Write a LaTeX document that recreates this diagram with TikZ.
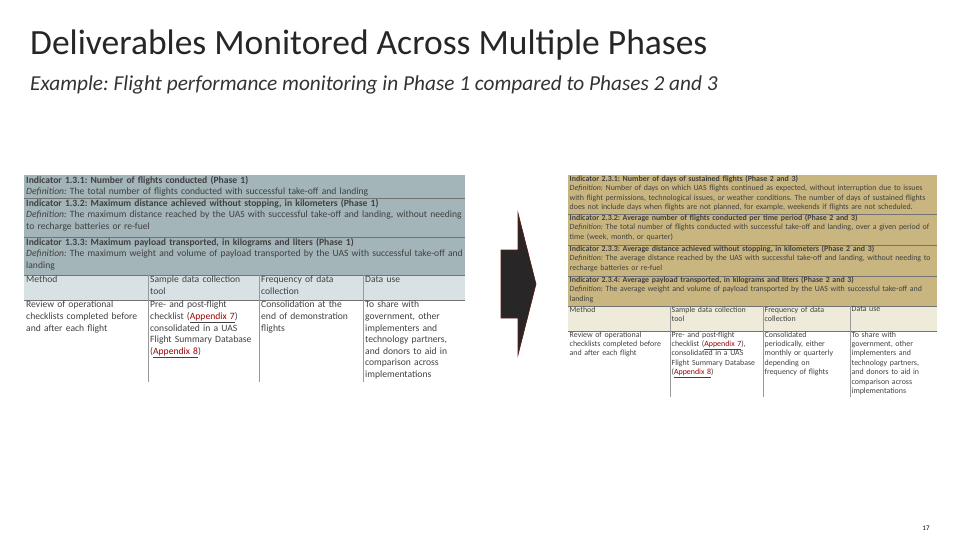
\documentclass[tikz,border=0pt]{standalone}
\usepackage{fontspec}
\setmainfont{Carlito}
\hyphenpenalty=10000 \exhyphenpenalty=10000
\begin{document}
\frenchspacing
\begin{tikzpicture}[x=1pt,y=-1pt,
 cell/.style={anchor=north west,inner xsep=2pt,inner ysep=1pt,font=\fontsize{9.6}{11.6}\selectfont\frenchspacing,align=left,text=black!75},
 rcell/.style={cell,font=\fontsize{7.9}{9.4}\selectfont\frenchspacing,inner ysep=0.5pt,inner xsep=1.5pt},
 ln/.style={draw=black!55,line width=0.6pt}]
\useasboundingbox (0,0) rectangle (960,540);
\node[anchor=west,font=\fontsize{35.5}{40}\selectfont,text=black!85,inner sep=0] (title) at (30,45) {Deliverables Monitored Across Multiple Phases};
\node[anchor=west,font=\fontsize{21.3}{24}\selectfont\itshape,text=black!80,inner sep=0] (sub) at (30,85) {Example: Flight performance monitoring in Phase 1 compared to Phases 2 and 3};
% left table
\fill[fill={rgb,255:red,163;green,181;blue,185}] (24,175) rectangle (465,275);
\fill[fill={rgb,255:red,216;green,226;blue,228}] (24,275) rectangle (465,300);
\draw[ln] (24,198)--(465,198) (24,237)--(465,237) (24,275)--(465,275) (24,300)--(465,300);
\draw[ln,draw=black!40] (148,275)--(148,382) (259,275)--(259,382) (363,275)--(363,382);
\node[cell,text width=441pt] (l1) at (24,175) {\textbf{Indicator 1.3.1: Number of flights conducted (Phase 1)}\\\textit{Definition:} The total number of flights conducted with successful take-off and landing};
\node[cell,text width=441pt] (l2) at (24,198) {\textbf{Indicator 1.3.2: Maximum distance achieved without stopping, in kilometers (Phase 1)}\\\textit{Definition:} The maximum distance reached by the UAS with successful take-off and landing, without needing to recharge batteries or re-fuel};
\node[cell,text width=438pt] (l3) at (24,237) {\textbf{Indicator 1.3.3: Maximum payload transported, in kilograms and liters (Phase 1)}\\\textit{Definition:} The maximum weight and volume of payload transported by the UAS with successful take-off and landing};
\node[cell,text width=120pt] (lh1) at (24,275) {Method};
\node[cell,text width=107pt] (lh2) at (148,275) {Sample data collection tool};
\node[cell,text width=100pt] (lh3) at (259,275) {Frequency of data collection};
\node[cell,text width=98pt] (lh4) at (363,275) {Data use};
\node[cell,text width=120pt] (lb1) at (24,300) {Review of operational checklists completed before and after each flight};
\node[cell,text width=107pt] (lb2) at (148,300) {Pre- and post-flight checklist (\underline{\textcolor{red!60!black}{Appendix 7}}) consolidated in a UAS Flight Summary Database (\underline{\textcolor{red!60!black}{Appendix 8}})};
\node[cell,text width=94pt] (lb3) at (259,300) {Consolidation at the end of demonstration flights};
\node[cell,text width=98pt] (lb4) at (363,300) {To share with government, other implementers and technology partners, and donors to aid in comparison across implementations};
% arrow
\draw[fill={rgb,255:red,40;green,38;blue,38},draw={rgb,255:red,90;green,30;blue,20},line width=0.6pt] (501,250)--(518,250)--(518,213)--(536,284)--(518,355)--(518,318)--(501,318)--cycle;
% right table
\fill[fill={rgb,255:red,200;green,181;blue,128}] (568,175) rectangle (937,306);
\fill[fill={rgb,255:red,238;green,235;blue,218}] (568,306) rectangle (937,331);
\draw[ln] (568,214)--(937,214) (568,245)--(937,245) (568,276)--(937,276) (568,306)--(937,306) (568,331)--(937,331);
\draw[ln,draw=black!40] (670,306)--(670,397) (763,306)--(763,397) (850,306)--(850,397);
\node[rcell,text width=366pt] (r1) at (568,175) {\textbf{Indicator 2.3.1: Number of days of sustained flights (Phase 2 and 3)}\\\textit{Definition:} Number of days on which UAS flights continued as expected, without interruption due to issues with flight permissions, technological issues, or weather conditions. The number of days of sustained flights does not include days when flights are not planned, for example, weekends if flights are not scheduled.};
\node[rcell,text width=366pt] (r2) at (568,214) {\textbf{Indicator 2.3.2: Average number of flights conducted per time period (Phase 2 and 3)}\\\textit{Definition:} The total number of flights conducted with successful take-off and landing, over a given period of time (week, month, or quarter)};
\node[rcell,text width=366pt] (r3) at (568,245) {\textbf{Indicator 2.3.3: Average distance achieved without stopping, in kilometers (Phase 2 and 3)}\\\textit{Definition:} The average distance reached by the UAS with successful take-off and landing, without needing to recharge batteries or re-fuel};
\node[rcell,text width=366pt] (r4) at (568,276) {\textbf{Indicator 2.3.4: Average payload transported, in kilograms and liters (Phase 2 and 3)}\\\textit{Definition:} The average weight and volume of payload transported by the UAS with successful take-off and landing};
\node[rcell,text width=99pt] (rh1) at (568,306) {Method};
\node[rcell,text width=84pt] (rh2) at (670,306) {Sample data collection tool};
\node[rcell,text width=84pt] (rh3) at (763,306) {Frequency of data collection};
\node[rcell,text width=84pt] (rh4) at (850,306) {Data use};
\node[rcell,text width=93pt] (rb1) at (568,331) {Review of operational checklists completed before and after each flight};
\node[rcell,text width=86pt] (rb2) at (670,331) {Pre- and post-flight checklist (\underline{\textcolor{red!60!black}{Appendix 7}}), consolidated in a UAS Flight Summary Database (\underline{\textcolor{red!60!black}{Appendix 8}})};
\node[rcell,text width=70pt] (rb3) at (763,331) {Consolidated periodically, either monthly or quarterly depending on frequency of flights};
\node[rcell,text width=80pt] (rb4) at (850,331) {To share with government, other implementers and technology partners, and donors to aid in comparison across implementations};
\node[font=\fontsize{7}{8}\selectfont] (pg) at (926,528) {17};
\end{tikzpicture}
\end{document}
